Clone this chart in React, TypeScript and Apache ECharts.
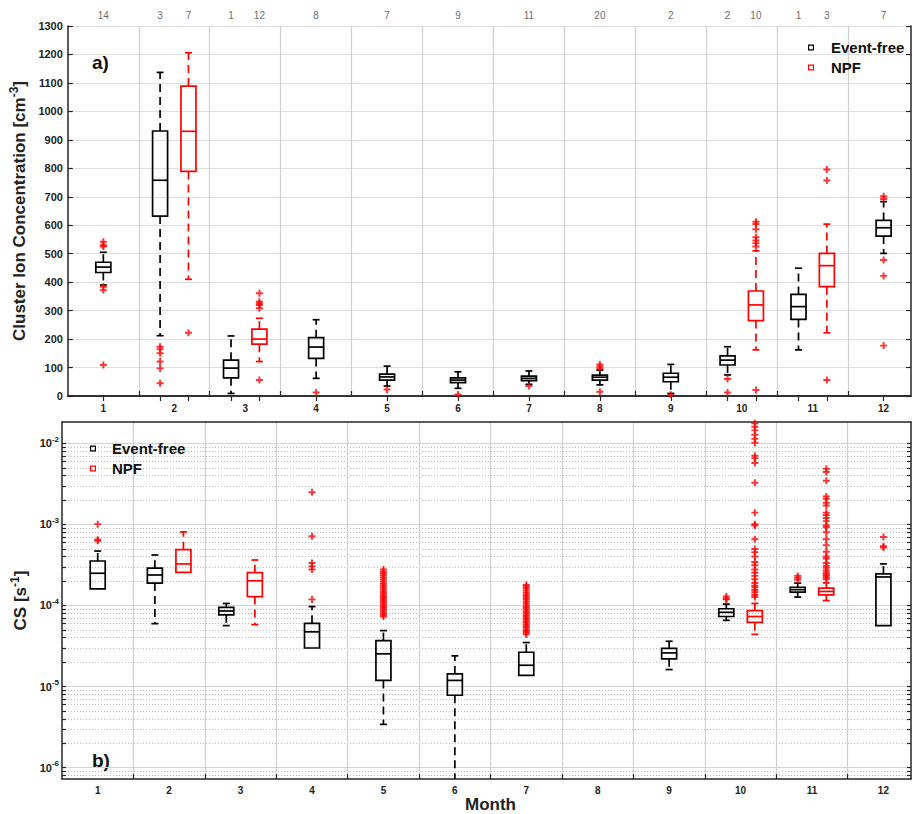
import React, { useEffect, useRef } from 'react';
import * as echarts from 'echarts';

// ---------- shared ----------
const MONTHS = [1, 2, 3, 4, 5, 6, 7, 8, 9, 10, 11, 12];
const SEPARATORS = [1.5, 2.5, 3.5, 4.5, 5.5, 6.5, 7.5, 8.5, 9.5, 10.5, 11.5];
const COUNT_POS = [1, 1.8, 2.2, 2.8, 3.2, 4, 5, 6, 7, 8, 9, 9.8, 10.2, 10.8, 11.2, 12];
const COUNTS = [14, 3, 7, 1, 12, 8, 7, 9, 11, 20, 2, 2, 10, 1, 3, 7];

// ---------- panel a: cluster ion concentration [cm^-3] ----------
const efA_pos = [1, 1.8, 2.8, 4, 5, 6, 7, 8, 9, 9.8, 10.8, 12];
const efA_low = [390, 212, 9, 62, 35, 27, 41, 39, 9, 74, 162, 501];
const efA_q1 = [434, 632, 64, 132, 56, 47, 54, 56, 50, 109, 269, 562];
const efA_med = [453, 758, 98, 172, 67, 56, 62, 66, 66, 126, 314, 591];
const efA_q3 = [470, 931, 126, 205, 77, 64, 70, 73, 80, 141, 357, 617];
const efA_high = [505, 1137, 211, 268, 105, 85, 88, 91, 111, 173, 449, 683];

const npfA_pos = [2.2, 3.2, 10.2, 11.2];
const npfA_low = [410, 121, 162, 222];
const npfA_q1 = [789, 182, 265, 384];
const npfA_med = [930, 200, 320, 458];
const npfA_q3 = [1089, 235, 369, 501];
const npfA_high = [1206, 273, 510, 604];

const outA_x = [
  1, 1, 1, 1, 1, 1,
  1.8, 1.8, 1.8, 1.8, 1.8, 1.8,
  2.2,
  3.2, 3.2, 3.2, 3.2, 3.2, 3.2,
  4, 5, 6, 7,
  8, 8, 8, 8,
  9,
  9.8, 9.8,
  10.2, 10.2, 10.2, 10.2, 10.2, 10.2, 10.2, 10.2,
  11.2, 11.2, 11.2,
  12, 12, 12, 12, 12,
];
const outA_y = [
  542, 530, 525, 384, 372, 109,
  173, 164, 150, 121, 97, 45,
  222,
  361, 331, 325, 320, 308, 56,
  12, 23, 5, 35,
  111, 104, 97, 15,
  4,
  60, 12,
  612, 604, 586, 558, 546, 537, 525, 21,
  796, 757, 56,
  702, 692, 478, 422, 177,
];

// ---------- panel b: condensation sink [s^-1] ----------
const efB_pos = [1, 1.8, 2.8, 4, 5, 6, 7, 9, 9.8, 10.8, 12];
const efB_low = [1.6e-4, 5.97e-5, 5.65e-5, 2.99e-5, 3.41e-6, 6.5e-7, 1.37e-5, 1.62e-5, 6.55e-5, 1.27e-4, 5.65e-5];
const efB_q1 = [1.6e-4, 1.89e-4, 7.65e-5, 2.99e-5, 1.19e-5, 7.8e-6, 1.37e-5, 2.2e-5, 7.31e-5, 1.46e-4, 5.65e-5];
const efB_med = [2.5e-4, 2.38e-4, 8.55e-5, 4.73e-5, 2.53e-5, 1.19e-5, 1.83e-5, 2.6e-5, 8.24e-5, 1.57e-4, 2.25e-4];
const efB_q3 = [3.54e-4, 2.89e-4, 9.46e-5, 6.02e-5, 3.69e-5, 1.43e-5, 2.65e-5, 2.96e-5, 9.12e-5, 1.68e-4, 2.45e-4];
const efB_high = [4.7e-4, 4.2e-4, 1.06e-4, 9.7e-5, 4.9e-5, 2.39e-5, 3.49e-5, 3.62e-5, 1.04e-4, 1.89e-4, 3.26e-4];

const npfB_pos = [2.2, 3.2, 10.2, 11.2];
const npfB_low = [2.56e-4, 5.8e-5, 4.4e-5, 1.15e-4];
const npfB_q1 = [2.56e-4, 1.29e-4, 6.19e-5, 1.35e-4];
const npfB_med = [3.26e-4, 2.02e-4, 7.31e-5, 1.49e-4];
const npfB_q3 = [4.89e-4, 2.54e-4, 8.63e-5, 1.64e-4];
const npfB_high = [8.1e-4, 3.64e-4, 1.06e-4, 1.9e-4];

const outB_m1 = [1.01e-3, 6.5e-4, 6.3e-4];
const outB_m4 = [2.5e-3, 7.15e-4, 3.35e-4, 3.05e-4, 2.79e-4, 1.19e-4];
const outB_m5 = [7.3e-5, 7.7e-5, 8.0e-5, 8.5e-5, 8.9e-5, 9.4e-5, 9.8e-5, 1.03e-4, 1.09e-4, 1.14e-4, 1.2e-4, 1.27e-4, 1.33e-4, 1.41e-4, 1.48e-4, 1.57e-4, 1.66e-4, 1.75e-4, 1.86e-4, 1.98e-4, 2.1e-4, 2.22e-4, 2.36e-4, 2.5e-4, 2.62e-4, 2.79e-4];
const outB_m7 = [4.4e-5, 4.6e-5, 4.8e-5, 5.0e-5, 5.3e-5, 5.5e-5, 5.8e-5, 6.1e-5, 6.4e-5, 6.7e-5, 7.0e-5, 7.4e-5, 7.8e-5, 8.2e-5, 8.6e-5, 9.1e-5, 9.6e-5, 1.01e-4, 1.07e-4, 1.13e-4, 1.2e-4, 1.27e-4, 1.35e-4, 1.44e-4, 1.53e-4, 1.63e-4, 1.72e-4, 1.79e-4];
const outB_m10ef = [1.29e-4, 1.22e-4, 1.19e-4];
const outB_m10npf = [1.77e-2, 1.61e-2, 1.45e-2, 1.28e-2, 1.14e-2, 1.02e-2, 7.05e-3, 6.55e-3, 5.75e-3, 3.28e-3, 1.4e-3, 1.01e-3, 9.7e-4, 6.58e-4, 4.98e-4, 4.54e-4, 4.03e-4, 3.44e-4, 3.14e-4, 2.79e-4, 2.54e-4, 2.32e-4, 2.11e-4, 1.89e-4, 1.76e-4, 1.68e-4, 1.55e-4, 1.46e-4, 1.35e-4, 1.27e-4];
const outB_m11ef = [2.32e-4, 2.2e-4, 2.08e-4];
const outB_m11npf = [4.87e-3, 4.44e-3, 3.46e-3, 2.22e-3, 2.07e-3, 1.85e-3, 1.71e-3, 1.4e-3, 1.31e-3, 1.2e-3, 1.1e-3, 9.7e-4, 9.25e-4, 8.0e-4, 6.58e-4, 5.56e-4, 4.62e-4, 4.03e-4, 3.8e-4, 3.35e-4, 3.1e-4, 2.92e-4, 2.7e-4, 2.54e-4, 2.41e-4, 2.32e-4, 2.21e-4, 2.11e-4];
const outB_m12 = [7.0e-4, 5.4e-4, 5.2e-4];

const CS_MIN = 7.2e-7;
const CS_MAX = 0.0184;
const CS_DECADES = [-6, -5, -4, -3, -2];

// ---------- styling ----------
const FONT = '"Liberation Sans", Arial, Helvetica, sans-serif';
const AXIS_COLOR = '#262626';
const RED = '#ff0000';
const BLACK = '#000000';
const BOX_W = 15;
const CAP_W = 7;
const PLUS = 'path://M3.6,0H6.4V3.6H10V6.4H6.4V10H3.6V6.4H0V3.6H3.6Z';
const SQUARE = 'path://M0,0H10V10H0Z M2,2V8H8V2Z';
const X_MIN = 0.5;
const X_MAX = 12.386;

function rows(pos: number[], lo: number[], q1: number[], med: number[], q3: number[], hi: number[], f: (v: number) => number) {
  return pos.map((p, i) => [p, f(lo[i]), f(q1[i]), f(med[i]), f(q3[i]), f(hi[i])]);
}

function makeRenderBox(color: string) {
  return (_params: any, api: any) => {
    const x = api.value(0);
    const pLo = api.coord([x, api.value(1)]);
    const pQ1 = api.coord([x, api.value(2)]);
    const pMed = api.coord([x, api.value(3)]);
    const pQ3 = api.coord([x, api.value(4)]);
    const pHi = api.coord([x, api.value(5)]);
    const cx = pMed[0];
    const solid = { stroke: color, lineWidth: 1.7, fill: 'none' };
    const dashed = { stroke: color, lineWidth: 1.7, lineDash: [8, 5], fill: 'none' };
    const children: any[] = [];
    if (pHi[1] < pQ3[1] - 0.5) {
      children.push({ type: 'line', shape: { x1: cx, y1: pQ3[1], x2: cx, y2: pHi[1] }, style: dashed });
      children.push({ type: 'line', shape: { x1: cx - CAP_W / 2, y1: pHi[1], x2: cx + CAP_W / 2, y2: pHi[1] }, style: solid });
    }
    if (pLo[1] > pQ1[1] + 0.5) {
      children.push({ type: 'line', shape: { x1: cx, y1: pQ1[1], x2: cx, y2: pLo[1] }, style: dashed });
      children.push({ type: 'line', shape: { x1: cx - CAP_W / 2, y1: pLo[1], x2: cx + CAP_W / 2, y2: pLo[1] }, style: solid });
    }
    children.push({
      type: 'rect',
      shape: { x: cx - BOX_W / 2, y: pQ3[1], width: BOX_W, height: Math.max(pQ1[1] - pQ3[1], 1) },
      style: solid,
    });
    children.push({ type: 'line', shape: { x1: cx - BOX_W / 2, y1: pMed[1], x2: cx + BOX_W / 2, y2: pMed[1] }, style: solid });
    return { type: 'group', children };
  };
}

export default function App() {
  const ref = useRef<HTMLDivElement>(null);

  useEffect(() => {
    document.body.style.margin = '0';
    if (!ref.current) return;
    const chart = echarts.init(ref.current, null, { renderer: 'svg' });

    const lg = Math.log10;
    const id = (v: number) => v;

    const minorTicks: number[] = [];
    for (let n = -7; n <= -2; n++) {
      for (let k = 2; k <= 9; k++) {
        const v = lg(k * Math.pow(10, n));
        if (v > lg(CS_MIN) && v < lg(CS_MAX)) minorTicks.push(v);
      }
    }
    const allLogTicks = [...CS_DECADES, ...minorTicks].sort((a, b) => a - b);

    const outB: number[][] = [];
    outB_m1.forEach((v) => outB.push([1, lg(v)]));
    outB_m4.forEach((v) => outB.push([4, lg(v)]));
    outB_m5.forEach((v) => outB.push([5, lg(v)]));
    outB_m7.forEach((v) => outB.push([7, lg(v)]));
    outB_m10ef.forEach((v) => outB.push([9.8, lg(v)]));
    outB_m10npf.forEach((v) => outB.push([10.2, lg(v)]));
    outB_m11ef.forEach((v) => outB.push([10.8, lg(v)]));
    outB_m11npf.forEach((v) => outB.push([11.2, lg(v)]));
    outB_m12.forEach((v) => outB.push([12, lg(v)]));

    const axisLine = { show: true, lineStyle: { color: AXIS_COLOR, width: 1.5 } };
    const tickStyle = { color: AXIS_COLOR, width: 1.2 };
    const tickLabel = { fontFamily: FONT, fontSize: 11, fontWeight: 'bold', color: '#222' };
    const nameStyle = { fontFamily: FONT, fontSize: 17, fontWeight: 'bold', color: '#222' };
    const nameRich = {
      t: { fontFamily: FONT, fontSize: 17, fontWeight: 'bold', color: '#222', lineHeight: 22 },
      s: { fontFamily: FONT, fontSize: 12, fontWeight: 'bold', color: '#222', verticalAlign: 'top', lineHeight: 12 },
    };
    const legendText = { fontFamily: FONT, fontSize: 15, fontWeight: 'bold', color: '#111', lineHeight: 17 };

    const option: any = {
      animation: false,
      backgroundColor: '#ffffff',
      textStyle: { fontFamily: FONT },
      grid: [
        { left: 62, right: 3, top: 26, height: 370 },
        { left: 62, right: 3, top: 422, height: 367 },
      ],
      xAxis: [
        {
          type: 'value', gridIndex: 0, position: 'bottom', min: X_MIN, max: X_MAX,
          axisLine,
          axisTick: { inside: true, length: 5, customValues: SEPARATORS, lineStyle: tickStyle },
          axisLabel: { ...tickLabel, fontSize: 10, margin: 7, customValues: MONTHS, formatter: (v: number) => String(v) },
          splitLine: { show: true, lineStyle: { color: '#cfcfcf', width: 1.2 } },
        },
        {
          type: 'value', gridIndex: 0, position: 'top', min: X_MIN, max: X_MAX,
          axisLine,
          axisTick: { inside: true, length: 5, customValues: COUNT_POS, lineStyle: tickStyle },
          axisLabel: {
            fontFamily: FONT, fontSize: 10, color: '#6e6e6e', margin: 6,
            customValues: COUNT_POS,
            formatter: (v: number) => {
              const i = COUNT_POS.findIndex((p) => Math.abs(p - v) < 1e-6);
              return i >= 0 ? String(COUNTS[i]) : '';
            },
          },
          splitLine: { show: false },
        },
        {
          type: 'value', gridIndex: 1, position: 'bottom', min: X_MIN, max: X_MAX,
          name: 'Month', nameLocation: 'middle', nameGap: 8, nameTextStyle: { ...nameStyle, padding: [0, 0, 0, 8] },
          axisLine,
          axisTick: { inside: true, length: 5, customValues: SEPARATORS, lineStyle: tickStyle },
          axisLabel: { ...tickLabel, fontSize: 10, margin: 6, customValues: MONTHS, formatter: (v: number) => String(v) },
          splitLine: { show: true, lineStyle: { color: '#cfcfcf', width: 1.2 } },
        },
        {
          type: 'value', gridIndex: 1, position: 'top', min: X_MIN, max: X_MAX,
          axisLine, axisTick: { show: false }, axisLabel: { show: false }, splitLine: { show: false },
        },
      ],
      yAxis: [
        {
          type: 'value', gridIndex: 0, position: 'left', min: 0, max: 1300, interval: 100,
          name: '{t|Cluster Ion Concentration [cm}{s|-3}{t|]}',
          nameLocation: 'middle', nameGap: 35, nameRotate: 90,
          nameTextStyle: { ...nameStyle, rich: nameRich },
          axisLine,
          axisTick: { inside: true, length: 5, lineStyle: tickStyle },
          axisLabel: { ...tickLabel, margin: 5, formatter: (v: number) => String(v) },
          splitLine: { show: true, lineStyle: { color: '#dedede', width: 1.2 } },
        },
        {
          type: 'value', gridIndex: 0, position: 'right', min: 0, max: 1300, interval: 100,
          axisLine,
          axisTick: { inside: true, length: 5, lineStyle: tickStyle },
          axisLabel: { show: false }, splitLine: { show: false },
        },
        {
          type: 'value', gridIndex: 1, position: 'left', min: lg(CS_MIN), max: lg(CS_MAX),
          name: '{t|CS [s}{s|-1}{t|]}',
          nameLocation: 'middle', nameGap: 31, nameRotate: 90,
          nameTextStyle: { ...nameStyle, rich: nameRich },
          axisLine,
          axisTick: { inside: true, length: 4, customValues: allLogTicks, lineStyle: tickStyle },
          axisLabel: {
            margin: 3,
            customValues: CS_DECADES,
            formatter: (v: number) => `{b|10}{s|${Math.round(v)}}`,
            rich: {
              b: { fontFamily: FONT, fontSize: 11, fontWeight: 'bold', color: '#222', lineHeight: 16 },
              s: { fontFamily: FONT, fontSize: 8, fontWeight: 'bold', color: '#222', verticalAlign: 'top', lineHeight: 9 },
            },
          },
          splitLine: { show: true, lineStyle: { color: '#bdbdbd', width: 1, type: [1, 2] } },
        },
        {
          type: 'value', gridIndex: 1, position: 'left', min: lg(CS_MIN), max: lg(CS_MAX),
          axisLine: { show: false },
          axisTick: { show: false, customValues: CS_DECADES },
          axisLabel: { show: false },
          splitLine: { show: true, lineStyle: { color: '#d4d4d4', width: 1.2 } },
        },
        {
          type: 'value', gridIndex: 1, position: 'right', min: lg(CS_MIN), max: lg(CS_MAX),
          axisLine,
          axisTick: { inside: true, length: 4, customValues: allLogTicks, lineStyle: tickStyle },
          axisLabel: { show: false }, splitLine: { show: false },
        },
      ],
      legend: [
        {
          data: ['Event-free', 'NPF'], orient: 'vertical', left: 808, top: 39, padding: 0,
          icon: SQUARE, itemWidth: 6, itemHeight: 6, itemGap: 3,
          textStyle: { ...legendText, padding: [0, 0, 0, 12] },
          selectedMode: false,
        },
        {
          data: ['Event-free', 'NPF'], orient: 'vertical', left: 90, top: 440, padding: 0,
          icon: SQUARE, itemWidth: 6, itemHeight: 6, itemGap: 3,
          textStyle: { ...legendText, padding: [0, 0, 0, 11] },
          selectedMode: false,
        },
      ],
      graphic: [
        { type: 'text', left: 92, top: 53, style: { text: 'a)', fontFamily: FONT, fontSize: 19, fontWeight: 'bold', fill: '#111' } },
        { type: 'text', left: 92, top: 751, style: { text: 'b)', fontFamily: FONT, fontSize: 19, fontWeight: 'bold', fill: '#111' } },
      ],
      series: [
        {
          type: 'custom', name: 'Event-free', xAxisIndex: 0, yAxisIndex: 0,
          itemStyle: { color: BLACK }, z: 3,
          renderItem: makeRenderBox(BLACK),
          encode: { x: 0, y: [1, 2, 3, 4, 5] },
          data: rows(efA_pos, efA_low, efA_q1, efA_med, efA_q3, efA_high, id),
        },
        {
          type: 'custom', name: 'NPF', xAxisIndex: 0, yAxisIndex: 0,
          itemStyle: { color: RED }, z: 3,
          renderItem: makeRenderBox(RED),
          encode: { x: 0, y: [1, 2, 3, 4, 5] },
          data: rows(npfA_pos, npfA_low, npfA_q1, npfA_med, npfA_q3, npfA_high, id),
        },
        {
          type: 'scatter', name: 'outliers a', xAxisIndex: 0, yAxisIndex: 0,
          symbol: PLUS, symbolSize: 7, itemStyle: { color: RED }, z: 4,
          data: outA_x.map((x, i) => [x, outA_y[i]]),
        },
        {
          type: 'custom', name: 'Event-free', xAxisIndex: 2, yAxisIndex: 2,
          itemStyle: { color: BLACK }, z: 3, clip: true,
          renderItem: makeRenderBox(BLACK),
          encode: { x: 0, y: [1, 2, 3, 4, 5] },
          data: rows(efB_pos, efB_low, efB_q1, efB_med, efB_q3, efB_high, lg),
        },
        {
          type: 'custom', name: 'NPF', xAxisIndex: 2, yAxisIndex: 2,
          itemStyle: { color: RED }, z: 3, clip: true,
          renderItem: makeRenderBox(RED),
          encode: { x: 0, y: [1, 2, 3, 4, 5] },
          data: rows(npfB_pos, npfB_low, npfB_q1, npfB_med, npfB_q3, npfB_high, lg),
        },
        {
          type: 'scatter', name: 'outliers b', xAxisIndex: 2, yAxisIndex: 2,
          symbol: PLUS, symbolSize: 7, itemStyle: { color: RED }, z: 4,
          data: outB,
        },
      ],
    };

    chart.setOption(option);
    return () => chart.dispose();
  }, []);

  return <div ref={ref} style={{ width: 914, height: 814 }} />;
}
